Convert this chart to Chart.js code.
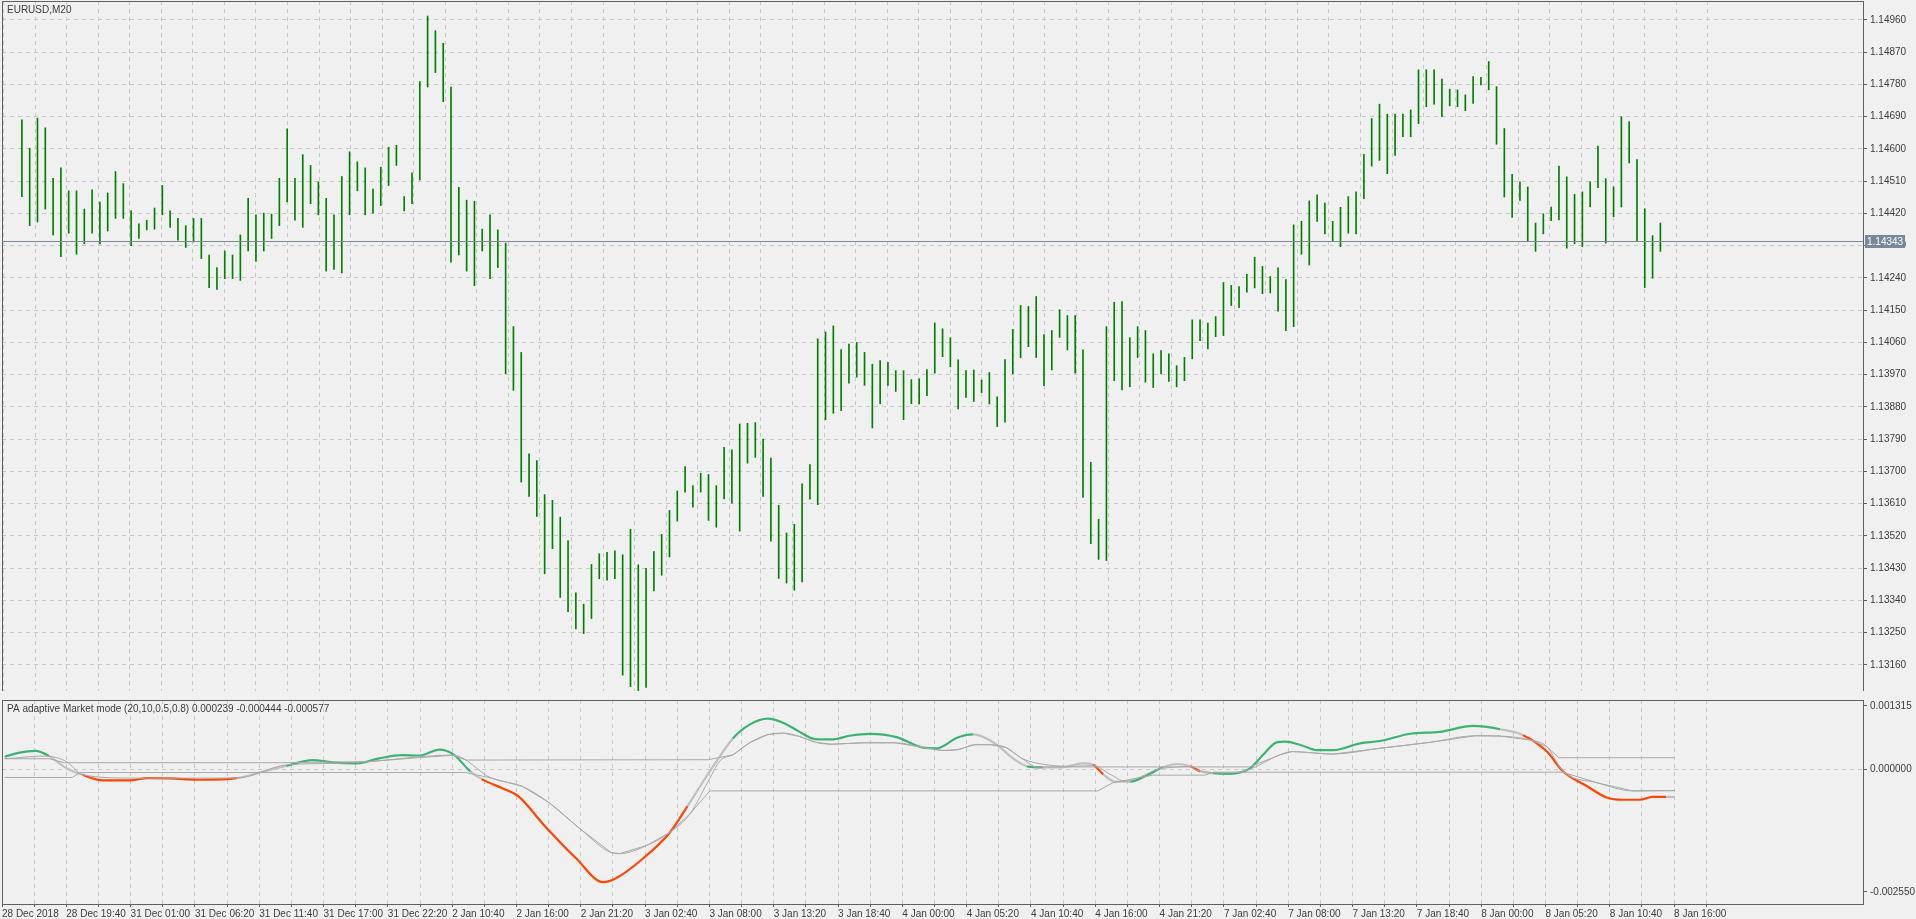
<!DOCTYPE html>
<html>
<head>
<meta charset="utf-8">
<script src="https://cdn.jsdelivr.net/npm/chart.js@4.4.1/dist/chart.umd.min.js"></script>
<style>
  html, body { margin: 0; padding: 0; background: #f0f0f0; overflow: hidden; }
  #wrap { position: relative; width: 1916px; height: 919px; overflow: hidden; }
  #price { position: absolute; left: 0; top: -8px; }
  #ind { position: absolute; left: 0; top: 691px; }
</style>
</head>
<body>
<div id="wrap">
  <canvas id="price" width="1916" height="714"></canvas>
  <canvas id="ind" width="1916" height="228"></canvas>
</div>
<script>
// EURUSD M20 bars, one entry per two bars (high / low)
var highs = [
  1.14681,1.14602,1.14686,1.14659,1.14518,1.14547,1.14483,1.14483,1.14432,1.14486,
  1.14452,1.14477,1.14537,1.14503,1.14427,1.14391,1.14401,1.14435,1.14498,1.14427,
  1.14406,1.14386,1.14406,1.14406,1.14304,1.14269,1.14315,1.14304,1.14360,1.14462,
  1.14416,1.14421,1.14418,1.14518,1.14656,1.14518,1.14584,1.14554,1.14508,1.14462,
  1.14416,1.14523,1.14592,1.14564,1.14547,1.14488,1.14549,1.14605,1.14610,1.14467,
  1.14533,1.14788,1.14971,1.14930,1.14895,1.14773,1.14493,1.14457,
  1.14454,1.14376,1.14416,1.14374,1.14337,1.14104,
  1.14032,1.13749,1.13730,1.13635,1.13619,1.13572,1.13507,1.13361,1.13329,1.13440,
  1.13470,1.13474,1.13478,1.13467,1.13538,1.13439,1.13429,1.13476,1.13524,1.13591,
  1.13645,1.13713,1.13660,1.13695,1.13691,1.13660,1.13767,1.13760,1.13832,1.13834,
  1.13836,1.13790,1.13737,1.13605,1.13528,1.13552,1.13665,1.13719,1.14070,
  1.14089,1.14106,1.14040,1.14055,1.14060,1.14032,1.13999,1.14009,1.14004,1.13981,1.13981,1.13956,
  1.13958,1.13984,1.14114,1.14098,1.14073,1.14011,1.13981,1.13983,1.13955,1.13976,
  1.13908,1.14012,1.14096,1.14163,1.14160,1.14188,1.14082,1.14093,1.14151,1.14135,
  1.14135,1.14039,1.13725,1.13566,1.14104,1.14172,1.14174,1.14073,1.14104,1.14093,
  1.14028,1.14037,1.14028,1.13995,1.14018,1.14123,1.14123,1.14114,1.14132,1.14227,
  1.14219,1.14216,1.14250,1.14298,1.14272,1.14244,1.14268,1.14235,1.14388,1.14398,
  1.14455,1.14472,1.14449,1.14398,1.14437,1.14467,1.14480,
  1.14585,1.14685,1.14725,1.14697,1.14697,1.14697,1.14709,1.14821,1.14821,1.14821,
  1.14795,1.14767,1.14765,1.14751,1.14802,1.14800,1.14844,1.14774,1.14657,1.14529,
  1.14508,1.14494,1.14393,1.14419,1.14438,1.14552,1.14522,1.14473,1.14480,1.14508,
  1.14608,1.14517,1.14494,1.14690,1.14676,1.14570,1.14433,1.14358,1.14393
];
var lows = [
  1.14467,1.14386,1.14396,1.14432,1.14360,1.14299,1.14365,1.14306,1.14335,1.14365,
  1.14335,1.14371,1.14406,1.14406,1.14330,1.14350,1.14374,1.14376,1.14416,1.14381,
  1.14345,1.14325,1.14340,1.14294,1.14213,1.14208,1.14238,1.14238,1.14233,1.14315,
  1.14286,1.14315,1.14350,1.14386,1.14452,1.14401,1.14381,1.14447,1.14416,1.14259,
  1.14264,1.14254,1.14416,1.14483,1.14416,1.14421,1.14442,1.14498,1.14554,1.14427,
  1.14447,1.14513,1.14773,1.14813,1.14732,1.14284,1.14304,1.14259,
  1.14218,1.14315,1.14238,1.14269,1.13972,1.13926,
  1.13670,1.13630,1.13574,1.13414,1.13484,1.13348,1.13308,1.13260,1.13247,1.13289,
  1.13400,1.13396,1.13400,1.13131,1.13099,1.13088,1.13097,1.13366,1.13410,1.13461,
  1.13561,1.13642,1.13600,1.13642,1.13563,1.13544,1.13623,1.13611,1.13533,1.13723,
  1.13739,1.13630,1.13505,1.13401,1.13388,1.13368,1.13391,1.13622,1.13607,
  1.13844,1.13862,1.13869,1.13946,1.13963,1.13940,1.13821,1.13889,1.13940,1.13923,1.13844,1.13889,
  1.13888,1.13911,1.13974,1.14020,1.13992,1.13874,1.13906,1.13895,1.13920,1.13888,
  1.13825,1.13837,1.13972,1.14017,1.14048,1.14018,1.13939,1.13983,1.14074,1.14039,
  1.13974,1.13627,1.13498,1.13454,1.13451,1.13953,1.13927,1.13936,1.14018,1.13949,
  1.13934,1.13972,1.13951,1.13936,1.13953,1.14014,1.14065,1.14042,1.14076,1.14079,
  1.14163,1.14157,1.14200,1.14212,1.14196,1.14198,1.14147,1.14093,1.14104,1.14306,
  1.14276,1.14398,1.14363,1.14343,1.14327,1.14365,1.14363,
  1.14461,1.14552,1.14568,1.14531,1.14582,1.14634,1.14634,1.14671,1.14718,1.14725,
  1.14690,1.14720,1.14718,1.14707,1.14727,1.14779,1.14765,1.14613,1.14466,1.14409,
  1.14456,1.14344,1.14314,1.14363,1.14400,1.14402,1.14323,1.14335,1.14327,1.14438,
  1.14492,1.14337,1.14411,1.14438,1.14561,1.14344,1.14213,1.14239,1.14314
];
var lastPrice = 1.14343;
var priceTicks = [1.13160,1.13250,1.13340,1.13430,1.13520,1.13610,1.13700,1.13790,1.13880,1.13970,
  1.14060,1.14150,1.14240,1.14330,1.14420,1.14510,1.14600,1.14690,1.14780,1.14870,1.14960];

// indicator: main line (position in bar-pair index, value, colour state)
var mainX = [0,1.7,3.9,5.6,7.8,9.8,12.3,15.7,18,20.8,24.7,29.2,32.5,35.4,38.7,41.5,44.3,47.1,50,52.2,54.7,56.4,
  58.6,60,62.8,64.6,67.9,71.9,75.3,76.9,80.3,83.7,85.9,87.5,89.4,91.6,93.7,96,97.9,100,101.9,104.2,106.3,108.8,
  112.2,115.5,117.3,119.8,121.8,123.5,125,126.8,128.6,130.6,133,135.6,136.9,138.2,139.7,141.6,143.7,145.7,147.5,
  149.1,150.4,152,154.1,156.6,158.3,160,161.1,163,165.1,167.1,170.5,173,176.8,180.5,184.7,188.1,191,194,196,199,
  201.5,203.5,205.7,207.3,209,210.1];
var mainY = [0.000259,0.000341,0.000382,0.000273,0.00002,-0.000116,-0.000232,-0.000232,-0.000184,-0.000191,-0.000218,
  -0.000184,-0.000048,0.000068,0.000191,0.000136,0.000123,0.000225,0.000293,0.000286,0.000409,0.000314,
  -0.000048,-0.000205,-0.000409,-0.000559,-0.001173,-0.001855,-0.002346,-0.002264,-0.001855,-0.001309,-0.000764,
  -0.000348,0.00013,0.000641,0.000928,0.00105,0.000968,0.000777,0.000627,0.000621,0.000696,0.000737,
  0.000668,0.00045,0.000436,0.000655,0.000723,0.000641,0.000484,0.000232,0.000061,0.000041,0.000041,0.000123,
  0.000095,-0.000109,-0.000259,-0.000259,-0.000123,0.000041,0.000109,
  0.000061,-0.000041,-0.000082,-0.000095,0.000014,0.0003,0.000559,0.000573,0.000505,0.000396,0.000396,0.000539,
  0.000587,0.000737,0.000777,0.0009,0.000832,0.000709,0.000368,-0.000041,-0.000348,
  -0.000587,-0.000634,-0.000634,-0.000573,-0.000573,-0.000577];
var mainState = "gggnnrrrrrrnngggggggggnrrrrrrrrrnnngggggggggggggnnnngnnnrnngg" +
  "nnrnggggggggggggggnrrrrrrrr";
var sigX = [0,5,7.8,9.8,16.3,29.2,35.4,41.5,45.5,54.4,56.4,61.2,65.1,68.5,72.4,76.3,77.4,80.8,83.7,86.2,88.5,90,
  91.6,93.7,96,98,100,102,104,108,112,116,118,120,122,124,126,128,131,134,137,139,141,143,145,147,149,150,154,
  156.6,160.4,162,167,173,179.3,185,188,191.9,194,196,200.3,204.8,210];
var sigY = [0.000218,0.000273,0.000157,-0.000116,-0.000184,-0.000184,0.000089,0.000123,0.000157,0.000286,0.000293,
  -0.000184,-0.000355,-0.000696,-0.001241,-0.001732,-0.001753,-0.001582,-0.001309,-0.000928,-0.00025,0.00018,
  0.0003,0.00055,0.00072,0.00075,0.00068,0.00056,0.00052,0.00055,0.00055,0.00044,0.00039,0.00041,0.00051,0.00051,
  0.00045,0.00022,0.000095,0.000061,0.000075,-0.0001,-0.00025,-0.00015,0.0,0.00004,0.00006,-0.000027,-0.000075,
  0.0,0.0003,0.000368,0.000314,0.000436,0.000559,0.000696,0.00069,0.000607,0.00047,-0.000041,-0.00028,-0.00045,-0.000444];
var upX = [0,5.6,7.5,35,46,52,56.4,58,88.5,91.6,93.7,96,98,100,102,104,108,112,116,118,120,122,124,126,128,129.5,
  156.6,160.4,162,167,173,179.3,185,188,191.9,194,195.5,210];
var upY = [0.000218,0.000218,0.000136,0.000136,0.00016,0.00024,0.00029,0.000191,0.000198,0.0003,0.00055,0.00072,
  0.00075,0.00068,0.00056,0.00052,0.00055,0.00055,0.00044,0.00039,0.00041,0.00051,0.00051,0.00045,0.00022,0.000048,
  0.000048,0.0003,0.000368,0.000314,0.000436,0.000559,0.000696,0.00069,0.000607,0.00047,0.000239,0.000239];
var loX = [0,8.5,9.5,58,61.2,65.1,68.5,72.4,76.3,77.4,80.8,83.7,86.2,88.7,137.5,139.4,144.4,151,152,196,200.3,204.8,210];
var loY = [-0.000171,-0.000171,-0.000068,-0.000068,-0.000184,-0.000355,-0.000696,-0.001241,-0.001732,-0.001753,
  -0.001582,-0.001309,-0.000928,-0.00045,-0.00045,-0.00028,-0.000123,-0.000123,-0.000061,-0.000061,-0.00028,
  -0.00045,-0.000444];
var indTicks = [0.001315, 0, -0.002550];

var timeLabels = ["28 Dec 2018","28 Dec 19:40","31 Dec 01:00","31 Dec 06:20","31 Dec 11:40","31 Dec 17:00",
  "31 Dec 22:20","2 Jan 10:40","2 Jan 16:00","2 Jan 21:20","3 Jan 02:40","3 Jan 08:00","3 Jan 13:20",
  "3 Jan 18:40","4 Jan 00:00","4 Jan 05:20","4 Jan 10:40","4 Jan 16:00","4 Jan 21:20","7 Jan 02:40",
  "7 Jan 08:00","7 Jan 13:20","7 Jan 18:40","8 Jan 00:00","8 Jan 05:20","8 Jan 10:40","8 Jan 16:00"];

var X_MIN = -0.34, X_MAX = 233.76, LABEL_STEP = 8.09;
var FONT = { family: "Liberation Sans, Arial, sans-serif", size: 10 };
var GRID = "#c8c8c8", FRAME = "#606060", TXT = "#3c3c3c";

function xTicks(scale) {
  var t = [];
  for (var k = 0; k < timeLabels.length * 2; k++) t.push({ value: X_MIN + k * LABEL_STEP / 2 });
  scale.ticks = t;
}
function fixY(scale) { scale.width = 53; }

var framePlugin = {
  id: "frame",
  beforeDraw: function (chart) {
    var c = chart.ctx;
    c.save(); c.fillStyle = "#f0f0f0"; c.fillRect(0, 0, chart.width, chart.height); c.restore();
  },
  afterDraw: function (chart) {
    var c = chart.ctx, a = chart.chartArea;
    c.save();
    c.strokeStyle = FRAME; c.lineWidth = 1;
    c.strokeRect(a.left + 0.5, a.top + 0.5, a.right - a.left, a.bottom - a.top);
    c.fillStyle = TXT; c.font = "10px " + FONT.family; c.textBaseline = "top";
    c.fillText(chart.options.plugins.frame.title, a.left + 5, a.top + 4);
    var lp = chart.options.plugins.frame.lastPrice;
    if (lp) {
      var y = Math.round(chart.scales.y.getPixelForValue(lp)) + 0.5;
      c.strokeStyle = "#7d8a96";
      c.beginPath(); c.moveTo(a.left, y); c.lineTo(a.right, y); c.stroke();
      c.fillStyle = "#778899"; c.fillRect(a.right + 2, y - 6.5, 40, 13);
      c.fillStyle = "#ffffff"; c.textBaseline = "middle";
      c.fillText(lp.toFixed(5), a.right + 4, y + 0.5);
    }
    c.restore();
  }
};

var xGridCommon = {
  type: "linear", min: X_MIN, max: X_MAX,
  afterBuildTicks: xTicks,
  grid: { color: GRID, drawTicks: false },
  border: { display: false, dash: [4, 4] }
};

new Chart(document.getElementById("price"), {
  type: "bar",
  data: {
    datasets: [{
      data: highs.map(function (h, i) { return { x: i, y: [lows[i], h] }; }),
      backgroundColor: "#008000", borderWidth: 0, barThickness: 1
    }]
  },
  options: {
    responsive: false, animation: false,
    layout: { autoPadding: false, padding: { left: 2, top: 2, right: 0, bottom: 0 } },
    plugins: { legend: { display: false }, tooltip: { enabled: false },
      frame: { title: "EURUSD,M20", lastPrice: lastPrice } },
    scales: {
      x: Object.assign({}, xGridCommon, { ticks: { display: false }, afterFit: function (s) { s.height = 0; } }),
      y: {
        position: "right", min: 1.13070, max: 1.15013,
        afterBuildTicks: function (s) { s.ticks = priceTicks.map(function (v) { return { value: v }; }); },
        afterFit: fixY,
        ticks: { color: TXT, font: FONT, padding: 3, callback: function (v) { return v.toFixed(5); } },
        grid: { color: GRID, tickColor: FRAME, tickLength: 4 },
        border: { display: false, dash: [4, 4] }
      }
    }
  },
  plugins: [framePlugin]
});

var stateColor = { g: "#3cb371", r: "#ff4500", n: "#c0c0c0" };
function pts(xs, ys) { return xs.map(function (x, i) { return { x: x, y: ys[i] }; }); }

new Chart(document.getElementById("ind"), {
  type: "line",
  data: {
    datasets: [
      { data: pts(upX, upY), borderColor: "#a9a9a9", borderWidth: 1, pointRadius: 0 },
      { data: pts(loX, loY), borderColor: "#a9a9a9", borderWidth: 1, pointRadius: 0 },
      { data: pts(sigX, sigY), borderColor: "#a9a9a9", borderWidth: 1, pointRadius: 0, cubicInterpolationMode: "monotone" },
      { data: pts(mainX, mainY), borderWidth: 2.2, pointRadius: 0, cubicInterpolationMode: "monotone",
        borderColor: "#3cb371",
        segment: { borderColor: function (ctx) { return stateColor[mainState.charAt(ctx.p0DataIndex)] || "#c0c0c0"; } } }
    ]
  },
  options: {
    responsive: false, animation: false,
    layout: { autoPadding: false, padding: { left: 2, top: 0, right: 0, bottom: 0 } },
    plugins: { legend: { display: false }, tooltip: { enabled: false },
      frame: { title: "PA adaptive Market mode (20,10,0.5,0.8) 0.000239 -0.000444 -0.000577" } },
    scales: {
      x: Object.assign({}, xGridCommon, {
        grid: { color: GRID, drawTicks: true, tickColor: FRAME, tickLength: 3 },
        ticks: { color: TXT, font: FONT, padding: 1, maxRotation: 0, autoSkip: false, align: "start",
          callback: function (v, i) { return i % 2 === 0 ? timeLabels[i / 2] : ""; } },
        afterFit: function (s) { s.height = 15; }
      }),
      y: {
        position: "right", min: -0.0028, max: 0.001439,
        afterBuildTicks: function (s) { s.ticks = indTicks.map(function (v) { return { value: v }; }); },
        afterFit: fixY,
        ticks: { color: TXT, font: FONT, padding: 3, callback: function (v) { return v.toFixed(6); } },
        grid: { color: function (c) { return c.tick && c.tick.value === 0 ? GRID : "rgba(0,0,0,0)"; },
          tickColor: FRAME, tickLength: 4 },
        border: { display: false, dash: [4, 4] }
      }
    }
  },
  plugins: [framePlugin]
});
</script>
</body>
</html>
